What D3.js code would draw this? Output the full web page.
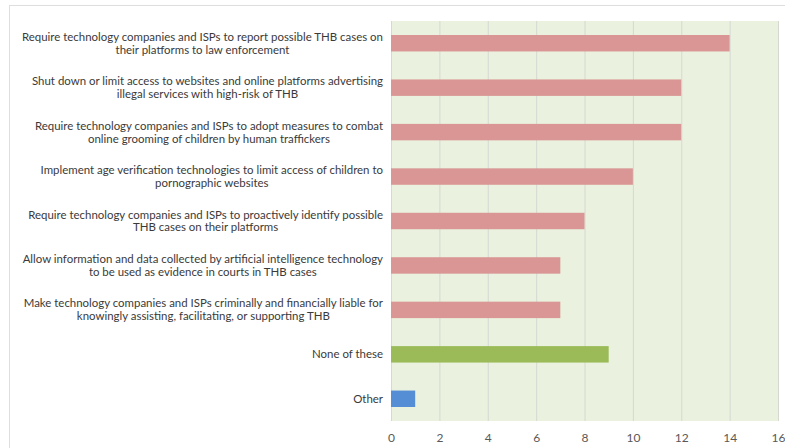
<!DOCTYPE html>
<html>
<head>
<meta charset="utf-8">
<script src="https://cdn.jsdelivr.net/npm/d3@7"></script>
<style>
  body { margin: 0; background: #fff; }
  svg { display: block; font-family: Lato, 'Open Sans', sans-serif; }
</style>
</head>
<body>
<svg id="chart" width="785" height="448"></svg>
<script>
// categories, top to bottom (line breaks as wrapped in the chart)
const categories = [
  'Require technology companies and ISPs to report possible THB cases on\ntheir platforms to law enforcement',
  'Shut down or limit access to websites and online platforms advertising\nillegal services with high-risk of THB',
  'Require technology companies and ISPs to adopt measures to combat\nonline grooming of children by human traffickers',
  'Implement age verification technologies to limit access of children to\npornographic websites',
  'Require technology companies and ISPs to proactively identify possible\nTHB cases on their platforms',
  'Allow information and data collected by artificial intelligence technology\nto be used as evidence in courts in THB cases',
  'Make technology companies and ISPs criminally and financially liable for\nknowingly assisting, facilitating, or supporting THB',
  'None of these',
  'Other'
];
const counts = [14, 12, 12, 10, 8, 7, 7, 9, 1];
const barColors = ['#d99694', '#d99694', '#d99694', '#d99694', '#d99694', '#d99694', '#d99694', '#9bbb59', '#558ed5'];
const xTicks = [0, 2, 4, 6, 8, 10, 12, 14, 16];

const svg = d3.select('#chart');
const margin = { top: 21, right: 7, bottom: 27, left: 391 };
const width = 785, height = 448;

// outer chart border
svg.append('rect')
  .attr('x', 9.5).attr('y', 5.5)
  .attr('width', 800).attr('height', 460)
  .attr('fill', 'none')
  .attr('stroke', '#dedede');

const x = d3.scaleLinear()
  .domain([0, 16])
  .range([margin.left, width - margin.right]);

const y = d3.scaleBand()
  .domain(categories)
  .range([margin.top, height - margin.bottom])
  .paddingInner(0.63)
  .paddingOuter(0.315);

// plot area
svg.append('rect')
  .attr('x', x(0)).attr('y', margin.top)
  .attr('width', x(16) - x(0))
  .attr('height', height - margin.bottom - margin.top)
  .attr('fill', '#eaf1de');

// gridlines
svg.append('g')
  .selectAll('line')
  .data(xTicks)
  .join('line')
  .attr('x1', (d) => x(d) + 0.5).attr('x2', (d) => x(d) + 0.5)
  .attr('y1', margin.top).attr('y2', height - margin.bottom)
  .attr('stroke', '#d6d8d2')
  .attr('stroke-width', 1);

// bars
svg.append('g')
  .selectAll('rect')
  .data(counts)
  .join('rect')
  .attr('x', x(0))
  .attr('y', (d, i) => y(categories[i]))
  .attr('width', (d) => x(d) - x(0))
  .attr('height', y.bandwidth())
  .attr('fill', (d, i) => barColors[i]);

// x axis
const xAxis = svg.append('g')
  .attr('transform', `translate(0,${height - margin.bottom})`)
  .call(d3.axisBottom(x).tickValues(xTicks).tickSize(0).tickPadding(12));
xAxis.select('.domain').remove();
xAxis.selectAll('text')
  .attr('fill', '#595959')
  .attr('font-size', 12)
  .attr('font-family', 'Lato, sans-serif');

// category labels: block right-aligned, lines centred within block
const labelRight = 383;
const lineH = 12.8;
const labels = svg.append('g')
  .attr('font-size', 11.45)
  .attr('fill', '#3a3a3a');

categories.forEach((c) => {
  const lines = c.split('\n');
  const cy = y(c) + y.bandwidth() / 2;
  const g = labels.append('g');
  const texts = lines.map((t, j) =>
    g.append('text')
      .attr('y', cy + (j - (lines.length - 1) / 2) * lineH)
      .attr('dy', '0.35em')
      .attr('text-anchor', 'middle')
      .text(t)
  );
  const w = d3.max(texts, (t) => t.node().getComputedTextLength());
  texts.forEach((t) => t.attr('x', labelRight - w / 2));
});
</script>
</body>
</html>
